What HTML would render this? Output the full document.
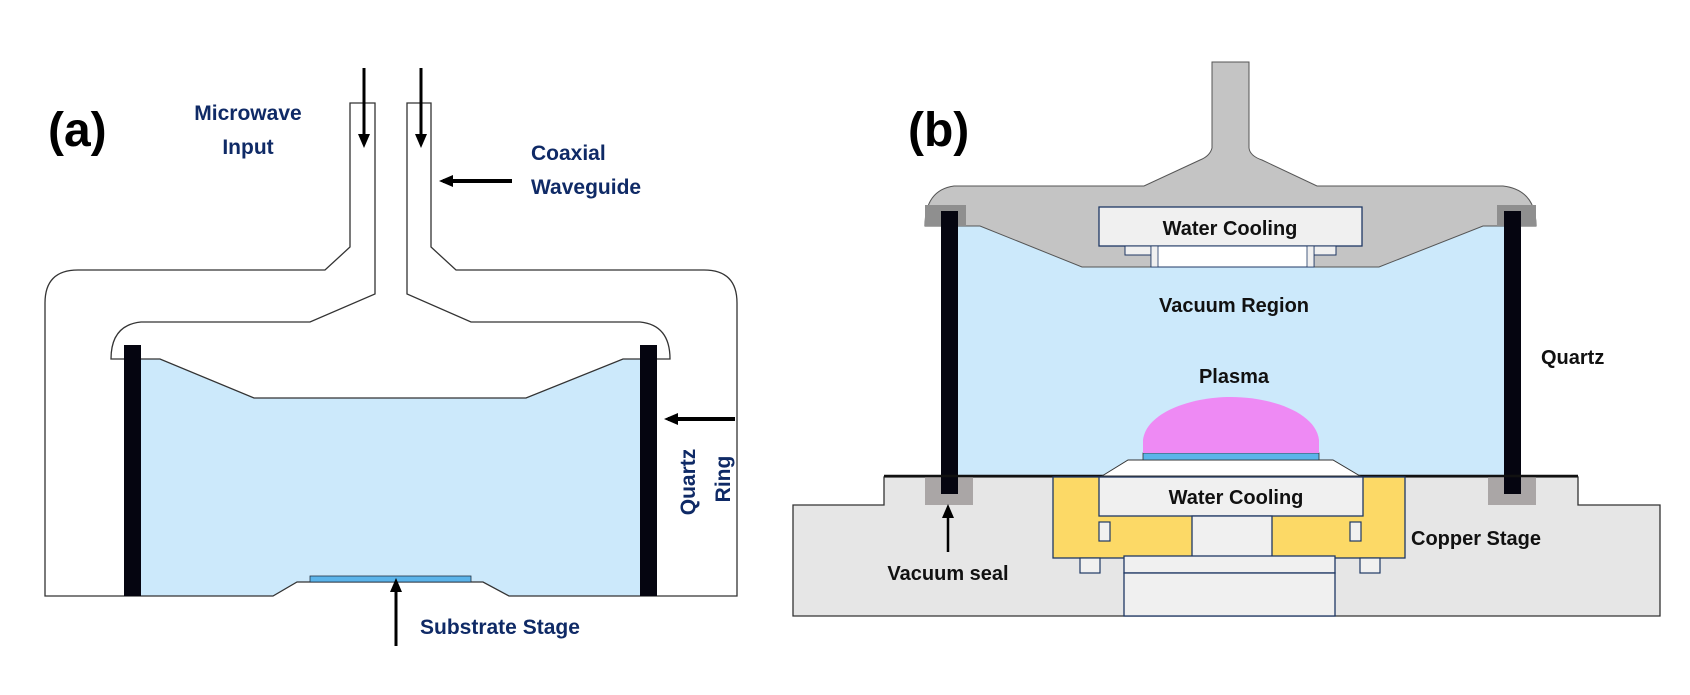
<!DOCTYPE html>
<html><head><meta charset="utf-8"><style>
html,body{margin:0;padding:0;background:#fff;}
svg{display:block;}
text{font-family:"Liberation Sans",sans-serif;font-weight:bold;}
</style></head><body>
<svg width="1690" height="695" viewBox="0 0 1690 695" xmlns="http://www.w3.org/2000/svg">
<defs>
<marker id="ah" markerWidth="14" markerHeight="14" refX="10" refY="7" orient="auto" markerUnits="userSpaceOnUse">
<path d="M0,1 L14,7 L0,13 Z" fill="#000"/></marker>
</defs>
<!-- PANEL A -->
<text x="48" y="146" font-size="48" fill="#000">(a)</text>
<path d="M141,359 L160,359 L254,398 L526,398 L623,359 L640,359 L640,596 L509,596 L483,582 L297,582 L273,596 L141,596 Z" fill="#cce9fb"/>
<path d="M350,103 L350,247 L325,270 L78,270 Q45,270 45,303 L45,596 L273,596 L297,582 L483,582 L509,596 L737,596 L737,303 Q737,270 704,270 L456,270 L431,247 L431,103 L407,103 L407,294 L471,322 L640,322 Q670,325 670,359 L623,359 L526,398 L254,398 L160,359 L111,359 Q111,325 141,322 L310,322 L375,294 L375,103 Z" fill="none" stroke="#333" stroke-width="1.3"/>
<rect x="124" y="345" width="17" height="251" fill="#050510"/>
<rect x="640" y="345" width="17" height="251" fill="#050510"/>
<rect x="310" y="576" width="161" height="6" fill="#5bb4ea" stroke="#234" stroke-width="0.8"/>
<line x1="364" y1="68" x2="364" y2="144" stroke="#000" stroke-width="3" marker-end="url(#ah)"/>
<line x1="421" y1="68" x2="421" y2="144" stroke="#000" stroke-width="3" marker-end="url(#ah)"/>
<line x1="512" y1="181" x2="443" y2="181" stroke="#000" stroke-width="4" marker-end="url(#ah)"/>
<line x1="735" y1="419" x2="668" y2="419" stroke="#000" stroke-width="4" marker-end="url(#ah)"/>
<line x1="396" y1="646" x2="396" y2="582" stroke="#000" stroke-width="3" marker-end="url(#ah)"/>
<g fill="#0f2a66" font-size="21">
<text x="248" y="120" text-anchor="middle">Microwave</text>
<text x="248" y="154" text-anchor="middle">Input</text>
<text x="531" y="160">Coaxial</text>
<text x="531" y="194">Waveguide</text>
<text x="420" y="634">Substrate Stage</text>
<text transform="translate(695,482) rotate(-90)" text-anchor="middle">Quartz</text>
<text transform="translate(730,479) rotate(-90)" text-anchor="middle">Ring</text>
</g>
<!-- PANEL B -->
<text x="908" y="146" font-size="48" fill="#000">(b)</text>
<path d="M884,477 L884,505 L793,505 L793,616 L1660,616 L1660,505 L1578,505 L1578,477 Z" fill="#e6e6e6" stroke="#333" stroke-width="1.3"/>
<path d="M958,226 L980,226 L1082,267 L1379,267 L1483,226 L1504,226 L1504,476 L958,476 Z" fill="#cce9fb"/>
<path d="M1212,62 L1212,148 Q1210,156 1200,160 L1144,186 L954,186 Q925,190 925,226 L980,226 L1082,267 L1379,267 L1483,226 L1536,226 Q1536,190 1503,186 L1317,186 L1262,160 Q1250,156 1249,148 L1249,62 Z" fill="#c4c4c4" stroke="#555" stroke-width="1"/>
<rect x="925" y="205" width="41" height="21" fill="#8f8f8f"/>
<rect x="1497" y="205" width="39" height="21" fill="#8f8f8f"/>
<rect x="1099" y="207" width="263" height="39" fill="#f0f0f0" stroke="#1f3864" stroke-width="1.3"/>
<rect x="1125" y="246" width="211" height="9" fill="#f0f0f0" stroke="#1f3864" stroke-width="1"/>
<rect x="1151" y="246" width="163" height="21" fill="#fff" stroke="#1f3864" stroke-width="1"/>
<rect x="1151" y="246" width="7" height="21" fill="#f0f0f0" stroke="#1f3864" stroke-width="0.8"/>
<rect x="1307" y="246" width="7" height="21" fill="#f0f0f0" stroke="#1f3864" stroke-width="0.8"/>
<rect x="925" y="477" width="48" height="28" fill="#aaa6a6"/>
<rect x="1488" y="477" width="48" height="28" fill="#aaa6a6"/>
<rect x="941" y="211" width="17" height="283" fill="#050510"/>
<rect x="1504" y="211" width="17" height="283" fill="#050510"/>
<line x1="884" y1="476" x2="1578" y2="476" stroke="#111" stroke-width="2.5"/>
<rect x="1053" y="477" width="352" height="81" fill="#fcd966" stroke="#1f3864" stroke-width="1.3"/>
<rect x="1099" y="477" width="264" height="39" fill="#f0f0f0" stroke="#1f3864" stroke-width="1.3"/>
<rect x="1192" y="516" width="80" height="42" fill="#f0f0f0" stroke="#1f3864" stroke-width="1.3"/>
<rect x="1099" y="522" width="11" height="19" fill="#f0f0f0" stroke="#1f3864" stroke-width="1.2"/>
<rect x="1350" y="522" width="11" height="19" fill="#f0f0f0" stroke="#1f3864" stroke-width="1.2"/>
<rect x="1080" y="558" width="20" height="15" fill="#f0f0f0" stroke="#1f3864" stroke-width="1.2"/>
<rect x="1360" y="558" width="20" height="15" fill="#f0f0f0" stroke="#1f3864" stroke-width="1.2"/>
<rect x="1124" y="556" width="211" height="17" fill="#f0f0f0" stroke="#1f3864" stroke-width="1.3"/>
<rect x="1124" y="573" width="211" height="43" fill="#f0f0f0" stroke="#1f3864" stroke-width="1.3"/>
<path d="M1102,476 L1128,460 L1333,460 L1360,476 Z" fill="#fff" stroke="#333" stroke-width="1"/>
<rect x="1143" y="453" width="176" height="7" fill="#5bb4ea" stroke="#333" stroke-width="0.8"/>
<path d="M1143,453 L1143,440 C1146,413 1190,397 1231,397 C1272,397 1316,413 1319,440 L1319,453 Z" fill="#ee8af4"/>
<line x1="948" y1="552" x2="948" y2="508" stroke="#000" stroke-width="2.5" marker-end="url(#ah)"/>
<g fill="#111" font-size="20">
<text x="1230" y="235" text-anchor="middle">Water Cooling</text>
<text x="1234" y="312" text-anchor="middle">Vacuum Region</text>
<text x="1234" y="383" text-anchor="middle">Plasma</text>
<text x="1236" y="504" text-anchor="middle">Water Cooling</text>
<text x="1541" y="364">Quartz</text>
<text x="1411" y="545">Copper Stage</text>
<text x="948" y="580" text-anchor="middle">Vacuum seal</text>
</g>
</svg>
</body></html>
